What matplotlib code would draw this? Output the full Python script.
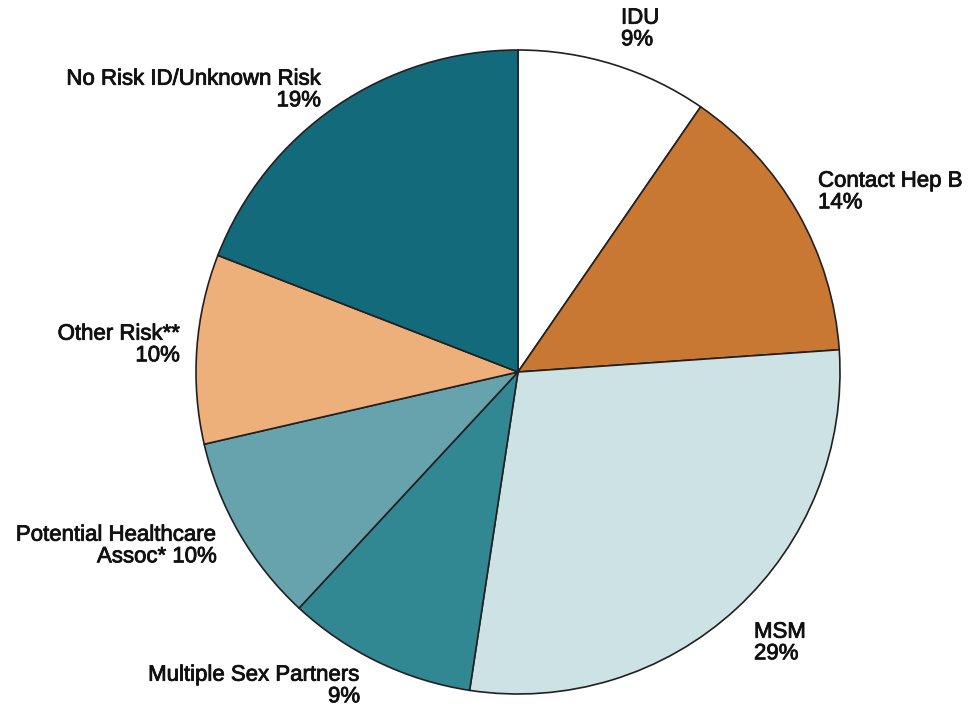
import matplotlib
matplotlib.use("Agg")
import matplotlib.pyplot as plt
import matplotlib.patheffects as pe

# Shares read from the slice boundaries (clockwise from top)
categories = ["IDU", "Contact Hep B", "MSM", "Multiple Sex Partners",
              "Potential Healthcare Assoc*", "Other Risk**", "No Risk ID/Unknown Risk"]
shares = [9.6, 14.3, 28.5, 9.5, 9.5, 9.5, 19.1]
pct_labels = ["9%", "14%", "29%", "9%", "10%", "10%", "19%"]
colors = ["#FFFFFF", "#C87832", "#CDE2E5", "#318893", "#66A3AD", "#EDB07A", "#136A7A"]

plt.rcParams['font.family'] = ['Liberation Sans', 'DejaVu Sans']

fig = plt.figure(figsize=(9.71, 7.06), dpi=100)
ax = fig.add_axes([0, 0, 1, 1])

ax.pie(shares, colors=colors, startangle=90, counterclock=False,
       center=(518, 334), radius=322, frame=True,
       wedgeprops=dict(edgecolor='#231F20', linewidth=1.2))
ax.set_xlim(0, 971)
ax.set_ylim(0, 706)
ax.set_aspect('equal')
ax.axis('off')

# labels, two lines each (thin stroke to get the medium weight of the original)
ink = '#111111'
txt = dict(fontsize=16, color=ink, linespacing=1.04, va='center',
           path_effects=[pe.withStroke(linewidth=0.6, foreground=ink)])
ax.text(621, 677, f"{categories[0]}\n{pct_labels[0]}", ha='left', **txt)
ax.text(818, 514, f"{categories[1]}\n{pct_labels[1]}", ha='left', **txt)
ax.text(754, 63, f"{categories[2]}\n{pct_labels[2]}", ha='left', **txt)
ax.text(360, 20, f"{categories[3]}\n{pct_labels[3]}", ha='right', multialignment='right', **txt)
ax.text(217, 160, f"Potential Healthcare\nAssoc* {pct_labels[4]}", ha='right', multialignment='right', **txt)
ax.text(180, 361, f"{categories[5]}\n{pct_labels[5]}", ha='right', multialignment='right', **txt)
ax.text(321, 616, f"{categories[6]}\n{pct_labels[6]}", ha='right', multialignment='right', **txt)

fig.savefig("out.png", dpi=100)
